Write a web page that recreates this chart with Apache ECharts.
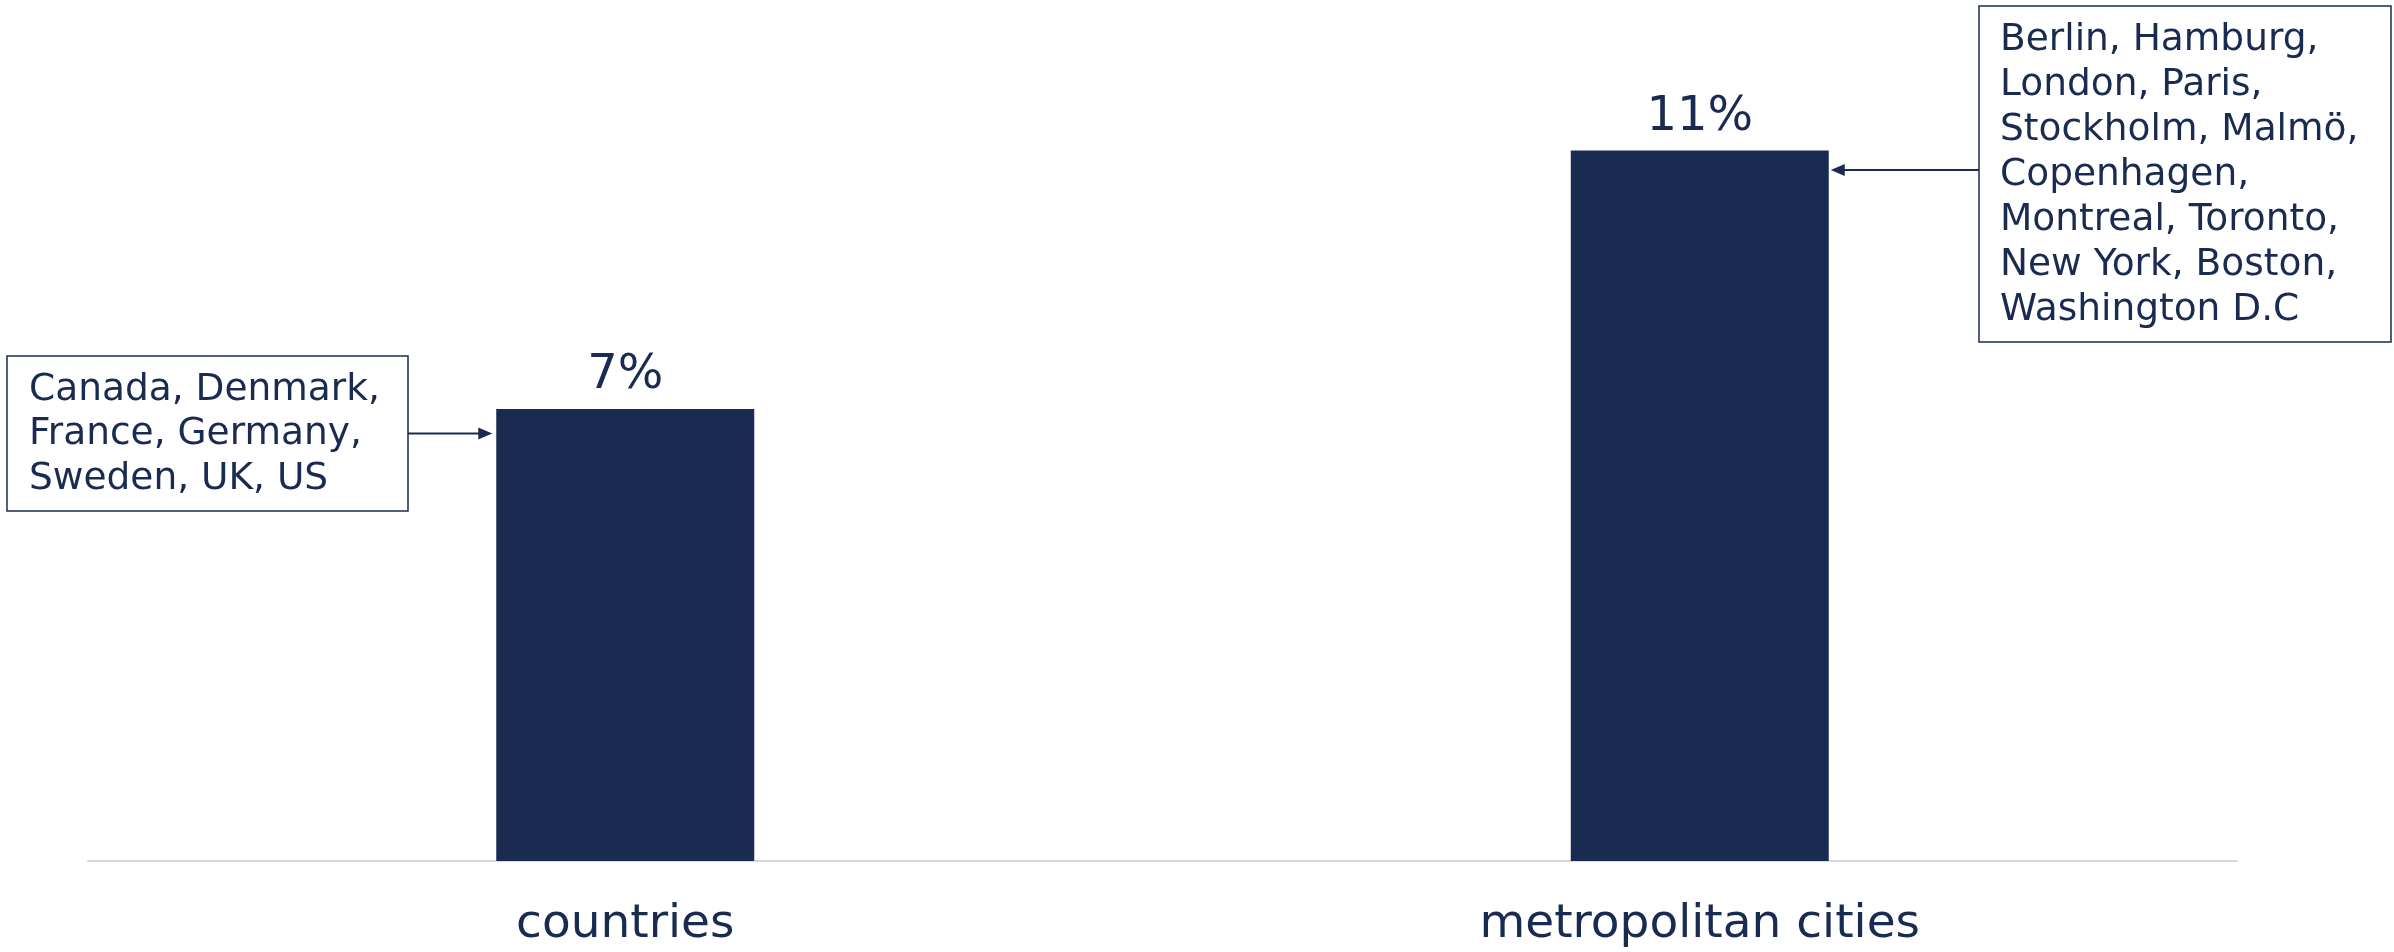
<!DOCTYPE html>
<html>
<head>
<meta charset="utf-8">
<script src="https://cdn.jsdelivr.net/npm/echarts@6/dist/echarts.min.js"></script>
<style>
html,body{margin:0;padding:0;background:#fff;}
#chart{width:2394px;height:952px;}
</style>
</head>
<body>
<div id="chart"></div>
<script>
const categories = ['countries', 'metropolitan cities'];
const shares = [7, 11];
const valueLabels = ['7%', '11%'];
const notes = [
  'Canada, Denmark,\nFrance, Germany,\nSweden, UK, US',
  'Berlin, Hamburg,\nLondon, Paris,\nStockholm, Malmö,\nCopenhagen,\nMontreal, Toronto,\nNew York, Boston,\nWashington D.C'
];

const NAVY = '#1a2b51';
const FONT = '"DejaVu Sans", Verdana, sans-serif';
const BAR_W = 258;

const chart = echarts.init(document.getElementById('chart'));
chart.setOption({
  backgroundColor: '#fff',
  animation: false,
  grid: { left: 88, right: 157, top: 86, bottom: 91 },
  xAxis: {
    type: 'category',
    data: categories,
    axisLine: { show: true, lineStyle: { color: '#d9d9d9', width: 2 } },
    axisTick: { show: false },
    axisLabel: { color: NAVY, fontFamily: FONT, fontSize: 47, margin: 40 }
  },
  yAxis: {
    type: 'value', min: 0, max: 12,
    show: false,
    splitLine: { show: false }
  },
  series: [{
    type: 'bar',
    data: shares,
    barWidth: BAR_W,
    itemStyle: { color: NAVY },
    label: {
      show: true, position: 'top', distance: 9,
      color: NAVY, fontFamily: FONT, fontSize: 48,
      formatter: p => valueLabels[p.dataIndex]
    }
  }]
});

// annotation boxes
const boxL = { x: 7, y: 356, w: 401, h: 155 };
const boxR = { x: 1979, y: 6, w: 412, h: 336 };

const c0 = chart.convertToPixel({ seriesIndex: 0 }, [0, shares[0]]);
const c1 = chart.convertToPixel({ seriesIndex: 0 }, [1, shares[1]]);
const barLeft0 = c0[0] - BAR_W / 2;
const barRight1 = c1[0] + BAR_W / 2;

const yL = boxL.y + boxL.h / 2;
const yR = boxR.y + boxR.h / 2 - 4;
const tipL = barLeft0 - 4;
const tipR = barRight1 + 2;
const AH = 14, AW = 6;

chart.setOption({
  graphic: [
    { type: 'rect', shape: { x: boxL.x, y: boxL.y, width: boxL.w, height: boxL.h },
      style: { fill: '#fff', stroke: NAVY, lineWidth: 1.5 } },
    { type: 'text', x: boxL.x + 22, y: boxL.y + 12,
      style: { text: notes[0], fill: NAVY, font: '37.5px ' + FONT, lineHeight: 44.5, verticalAlign: 'top' } },
    { type: 'rect', shape: { x: boxR.x, y: boxR.y, width: boxR.w, height: boxR.h },
      style: { fill: '#fff', stroke: NAVY, lineWidth: 1.5 } },
    { type: 'text', x: boxR.x + 21, y: boxR.y + 12,
      style: { text: notes[1], fill: NAVY, font: '37.5px ' + FONT, lineHeight: 45, verticalAlign: 'top' } },
    { type: 'line', shape: { x1: boxL.x + boxL.w, y1: yL, x2: tipL - AH + 2, y2: yL },
      style: { stroke: NAVY, lineWidth: 2 } },
    { type: 'polygon', shape: { points: [[tipL, yL], [tipL - AH, yL - AW], [tipL - AH, yL + AW]] },
      style: { fill: NAVY } },
    { type: 'line', shape: { x1: boxR.x, y1: yR, x2: tipR + AH - 2, y2: yR },
      style: { stroke: NAVY, lineWidth: 2 } },
    { type: 'polygon', shape: { points: [[tipR, yR], [tipR + AH, yR - AW], [tipR + AH, yR + AW]] },
      style: { fill: NAVY } }
  ]
});
</script>
</body>
</html>
